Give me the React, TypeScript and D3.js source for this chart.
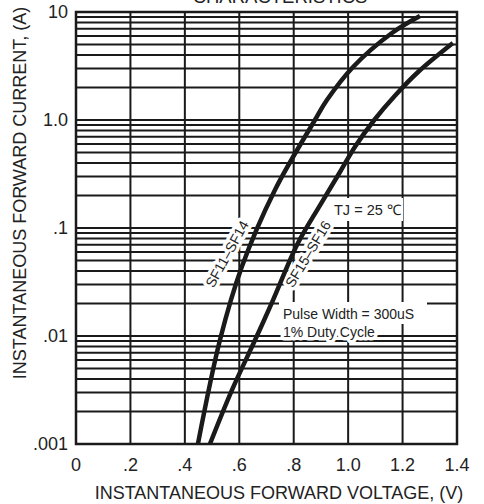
import * as d3 from "d3";

// tick values and labels
const xTicks = [0, 0.2, 0.4, 0.6, 0.8, 1.0, 1.2, 1.4];
const xTickLabels = ["0", ".2", ".4", ".6", ".8", "1.0", "1.2", "1.4"];
const yTicks = [0.001, 0.01, 0.1, 1, 10];
const yTickLabels = [".001", ".01", ".1", "1.0", "10"];
const decades = [0.001, 0.01, 0.1, 1];
const multipliers = [1, 2, 3, 4, 5, 6, 7, 8, 9];

// SF11~SF14 curve
const sf11V = [0.448, 0.529, 0.609, 0.731, 0.878, 0.922, 1.018, 1.161, 1.264];
const sf11I = [0.001, 0.00918, 0.0435, 0.225, 1.0, 1.53, 3.1, 6.39, 9.18];

// SF15~SF16 curve
const sf15V = [0.492, 0.573, 0.658, 0.724, 0.812, 0.897, 0.97, 1.027, 1.096, 1.171, 1.257, 1.385];
const sf15I = [0.001, 0.00316, 0.00918, 0.0215, 0.0697, 0.163, 0.33, 0.574, 1.0, 1.668, 2.783, 5.16];

const W = 484;
const H = 504;
const font = "'Liberation Sans', Arial, Helvetica, sans-serif";

export default function App() {
  const x = d3.scaleLinear().domain([0, 1.4]).range([76, 457]);
  const y = d3.scaleLog().domain([0.001, 10]).range([444, 12]);

  const hLines: number[] = [];
  decades.forEach(d => multipliers.forEach(m => hLines.push(d * m)));
  hLines.push(10);

  const line = d3.line<[number, number]>()
    .x(d => x(d[0]))
    .y(d => y(d[1]))
    .curve(d3.curveCatmullRom.alpha(0.5));

  const c1 = sf11V.map((v, i) => [v, sf11I[i]] as [number, number]);
  const c2 = sf15V.map((v, i) => [v, sf15I[i]] as [number, number]);

  const halo = { stroke: "#fff", strokeWidth: 7, paintOrder: "stroke" as const, strokeLinejoin: "round" as const };

  return (
    <svg width={W} height={H} style={{ position: "absolute", left: 0, top: 0, background: "#fff" }} fontFamily={font}>
      <rect width={W} height={H} fill="#fff" />
      <text x={280} y={3} fontSize={18.5} textAnchor="middle" fill="#222">CHARACTERISTICS</text>

      {/* grid */}
      <g stroke="#1a1a1a" strokeWidth={2}>
        {hLines.map((v, i) => (
          <line key={"h" + i} x1={x(0)} x2={x(1.4)} y1={y(v)} y2={y(v)} />
        ))}
        {xTicks.map((v, i) => (
          <line key={"v" + i} x1={x(v)} x2={x(v)} y1={y(10)} y2={y(0.001)} />
        ))}
      </g>
      <rect x={x(0)} y={y(10)} width={x(1.4) - x(0)} height={y(0.001) - y(10)} fill="none" stroke="#1a1a1a" strokeWidth={2.5} />

      {/* tick labels */}
      {yTicks.map((v, i) => (
        <text key={"yt" + i} x={68} y={y(v)} dy="0.35em" fontSize={18} textAnchor="end" fill="#222">{yTickLabels[i]}</text>
      ))}
      {xTicks.map((v, i) => (
        <text key={"xt" + i} x={x(v)} y={471} fontSize={18} textAnchor="middle" fill="#222">{xTickLabels[i]}</text>
      ))}

      {/* axis titles */}
      <text x={279} y={499} fontSize={18} textAnchor="middle" fill="#222">INSTANTANEOUS FORWARD VOLTAGE, (V)</text>
      <text transform={`translate(26,193) rotate(-90)`} fontSize={18} textAnchor="middle" fill="#222">INSTANTANEOUS FORWARD CURRENT, (A)</text>

      {/* annotations */}
      <rect x={331} y={198} width={72} height={23} fill="#fff" />
      <text x={334} y={215} fontSize={14.5} fill="#222">TJ = 25 ℃</text>
      <rect x={279} y={302} width={148} height={22} fill="#fff" />
      <text x={283} y={319} fontSize={14} fill="#222">Pulse Width = 300uS</text>
      <text x={283} y={337} fontSize={14} fill="#222" {...halo}>1% Duty Cycle</text>

      <text transform={`translate(227,254) rotate(-61)`} fontSize={14} textAnchor="middle" dy="0.35em" fill="#222" {...halo}>SF11–SF14</text>
      <text transform={`translate(308,254) rotate(-59)`} fontSize={14} textAnchor="middle" dy="0.35em" fill="#222" {...halo}>SF15–SF16</text>

      {/* curves */}
      <path d={line(c1) ?? ""} fill="none" stroke="#1a1a1a" strokeWidth={4.5} />
      <path d={line(c2) ?? ""} fill="none" stroke="#1a1a1a" strokeWidth={4.5} />
    </svg>
  );
}
